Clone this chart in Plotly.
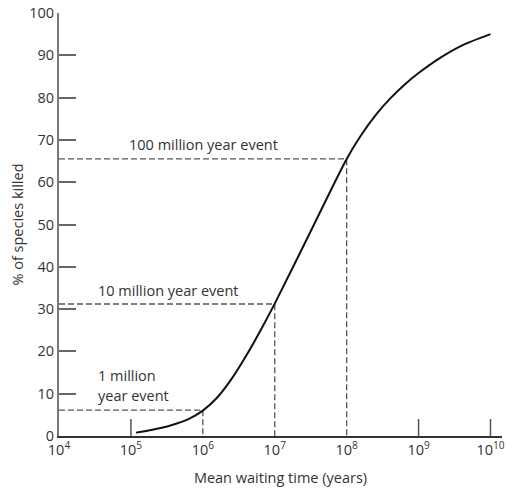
import plotly.graph_objects as go

# Curve: log10(mean waiting time, years) vs % of species killed
log_wait = [5.07, 5.3, 5.55, 5.8, 6.0, 6.2, 6.4, 6.6, 6.8, 7.0, 7.5, 8.0, 8.2, 8.4, 8.6, 8.8, 9.0, 9.3, 9.6, 10.0]
pct_killed = [0.8, 1.5, 2.5, 4.0, 6.0, 9.1, 13.5, 18.9, 24.9, 31.3, 48.4, 65.5, 71.1, 75.8, 79.7, 83.0, 85.8, 89.4, 92.3, 95.0]

# Reference events
event_log_wait = [6, 7, 8]
event_pct = [6.1, 31.2, 65.5]
event_labels = ["1 million", "year event", "10 million year event", "100 million year event"]

x_tickvals = [4, 5, 6, 7, 8, 9, 10]
x_ticktext = ["10<sup>%d</sup>" % v for v in x_tickvals]
x_marked_ticks = [5, 9, 10]
y_tickvals = [0, 10, 20, 30, 40, 50, 60, 70, 80, 90, 100]

x_min = 4
font_color = "#333333"
fs = 14.5

fig = go.Figure()

# dashed guides
for lx, py in zip(event_log_wait, event_pct):
    fig.add_trace(go.Scatter(
        x=[x_min, lx, lx], y=[py, py, 0], mode="lines",
        line=dict(color="#555555", width=1.3, dash="6px,3px"),
        hoverinfo="skip", showlegend=False))

fig.add_trace(go.Scatter(
    x=log_wait, y=pct_killed, mode="lines",
    line=dict(color="#111111", width=2, shape="spline", smoothing=0.8),
    showlegend=False))

# x tick marks only at selected positions
for xv in x_marked_ticks:
    fig.add_shape(type="line", xref="x", yref="y", x0=xv, x1=xv,
                  ysizemode="pixel", yanchor=0, y0=0, y1=17,
                  line=dict(color="#555555", width=1.5))

# event labels
label_pos = [(4.52, 14.2), (4.52, 9.5), (4.52, 34.5), (4.95, 68.8)]
for txt, (lx, ly) in zip(event_labels, label_pos):
    fig.add_annotation(x=lx, y=ly, text=txt, xanchor="left", yanchor="middle",
                       showarrow=False, font=dict(size=fs, color=font_color))

fig.update_layout(
    width=507, height=489,
    margin=dict(l=58.5, r=5, t=13, b=53),
    paper_bgcolor="white", plot_bgcolor="white",
    font=dict(family="Open Sans", size=fs, color=font_color),
    xaxis=dict(
        range=[4, 10.16], tickvals=x_tickvals, ticktext=x_ticktext,
        ticks="", showgrid=False, zeroline=False, automargin=False,
        ticklabeloverflow="allow",
        showline=True, linecolor="#333333", linewidth=1.5,
        tickfont=dict(size=fs, color=font_color),
        title=dict(text="Mean waiting time (years)", font=dict(size=fs, color=font_color), standoff=15),
    ),
    yaxis=dict(
        range=[0, 100], tickvals=y_tickvals, automargin=False,
        ticklabeloverflow="allow",
        ticks="inside", ticklen=17, tickwidth=1.5, tickcolor="#666666",
        showgrid=False, zeroline=False,
        showline=True, linecolor="#777777", linewidth=2,
        tickfont=dict(size=fs, color=font_color),
        title=dict(text="% of species killed", font=dict(size=fs, color=font_color), standoff=2),
    ),
)

# remove the page's default 8px body margin so the figure sits at the window origin
fig.write_html("out.html", config={"displayModeBar": False},
               post_script="document.body.style.margin='0';")
